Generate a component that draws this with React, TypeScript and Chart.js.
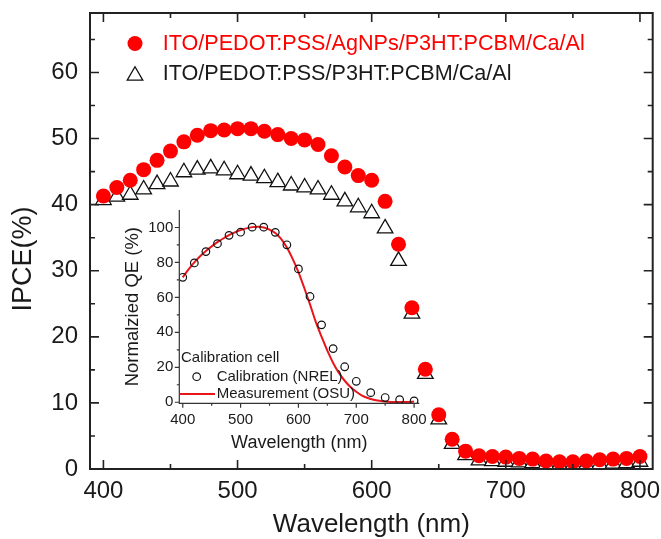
import React, { useEffect, useRef } from "react";
import { Chart, registerables } from "chart.js";

Chart.register(...registerables);

// ---------- Main chart data ----------
const wavelengths = [
  400, 410, 420, 430, 440, 450, 460, 470, 480, 490, 500, 510, 520, 530, 540, 550, 560, 570, 580, 590,
  600, 610, 620, 630, 640, 650, 660, 670, 680, 690, 700, 710, 720, 730, 740, 750, 760, 770, 780, 790, 800,
];
const ipceAgNPs = [
  41.3, 42.6, 43.7, 45.3, 46.7, 48.1, 49.5, 50.5, 51.2, 51.3, 51.5, 51.5, 51.1, 50.6, 50.0, 49.8, 49.1, 47.4, 45.7, 44.4,
  43.7, 40.5, 34.0, 24.4, 15.1, 8.2, 4.5, 2.7, 2.0, 1.9, 1.8, 1.6, 1.5, 1.2, 1.1, 1.1, 1.2, 1.4, 1.5, 1.6, 1.9,
];
const ipceReference = [
  40.7, 41.2, 41.5, 42.3, 43.1, 43.5, 44.9, 45.3, 45.5, 45.2, 44.6, 44.4, 44.0, 43.4, 42.9, 42.6, 42.3, 41.5, 40.5, 39.6,
  38.7, 36.4, 31.5, 23.5, 14.4, 7.5, 3.8, 2.1, 1.3, 1.2, 1.1, 1.0, 0.9, 0.7, 0.6, 0.6, 0.6, 0.7, 0.8, 0.9, 1.1,
];
const labelAgNPs = "ITO/PEDOT:PSS/AgNPs/P3HT:PCBM/Ca/Al";
const labelReference = "ITO/PEDOT:PSS/P3HT:PCBM/Ca/Al";
const mainXTicks = [400, 500, 600, 700, 800];
const mainXMinorTicks = [450, 550, 650, 750];
const mainYTicks = [0, 10, 20, 30, 40, 50, 60];
const mainYMinorTicks = [5, 15, 25, 35, 45, 55, 65];
const mainXTitle = "Wavelength (nm)";
const mainYTitle = "IPCE(%)";

// ---------- Inset data ----------
const calibrationWl = [400, 420, 440, 460, 480, 500, 520, 540, 560, 580, 600, 620, 640, 660, 680, 700, 725, 750, 775, 800];
const calibrationQE = [71.5, 79.7, 86.2, 90.7, 95.5, 97.3, 100.2, 100.2, 97.2, 90.1, 76.3, 60.5, 44.3, 30.7, 20.3, 12.0, 5.5, 2.7, 1.5, 0.8];
const measurementWl = [
  400, 410, 420, 430, 440, 450, 460, 470, 480, 490, 500, 510, 520, 530, 540, 550, 560, 570, 580, 590,
  600, 610, 620, 630, 640, 650, 660, 670, 680, 690, 700, 710, 720, 730, 740, 750, 760, 770, 780, 790, 800,
];
const measurementQE = [
  71.5, 76, 80, 83.5, 86.5, 89.2, 91.6, 93.7, 95.6, 97.2, 98.5, 99.5, 100.2, 100.4, 100, 98.8, 96.8, 93.5, 88.5, 82,
  74.5, 65.5, 56, 46, 37.5, 29.5, 22.5, 16.8, 12.3, 8.7, 6, 3.8, 2.4, 1.4, 0.8, 0.4, 0.2, 0.1, 0.1, 0.2, 0.4,
];
const insetXTicks = [400, 500, 600, 700, 800];
const insetXMinorTicks = [450, 550, 650, 750];
const insetYTicks = [0, 20, 40, 60, 80, 100];
const insetYMinorTicks = [10, 30, 50, 70, 90];
const insetLegendTitle = "Calibration cell";
const calibrationLabel = "Calibration (NREL)";
const measurementLabel = "Measurement (OSU)";
const insetXTitle = "Wavelength (nm)";
const insetYTitle = "Normalzied QE (%)";

const FONT = "'Liberation Sans', Arial, Helvetica, sans-serif";
const TEXT = "#1a1a1a";
const RED = "#ff0000";
const LINE_RED = "#e8161b";

function drawTriangle(ctx: CanvasRenderingContext2D, x: number, y: number, r: number) {
  const third = (2 * Math.PI) / 3;
  ctx.beginPath();
  ctx.moveTo(x, y - r);
  ctx.lineTo(x + Math.sin(third) * r, y - Math.cos(third) * r);
  ctx.lineTo(x + Math.sin(2 * third) * r, y - Math.cos(2 * third) * r);
  ctx.closePath();
}

const mainFramePlugin = {
  id: "mainFrame",
  afterDatasetsDraw(chart: any) {
    const { ctx, chartArea } = chart;
    const { left, right, top, bottom } = chartArea;
    const xs = chart.scales.x;
    const ys = chart.scales.y;
    ctx.save();
    ctx.strokeStyle = "#222";
    ctx.lineWidth = 2;
    ctx.strokeRect(left, top, right - left, bottom - top);
    ctx.lineWidth = 1.6;
    ctx.beginPath();
    const major = 9;
    const minor = 5;
    const xt = (v: number, len: number) => {
      const p = xs.getPixelForValue(v);
      ctx.moveTo(p, bottom);
      ctx.lineTo(p, bottom - len);
      ctx.moveTo(p, top);
      ctx.lineTo(p, top + len);
    };
    mainXTicks.forEach((v) => xt(v, major));
    mainXMinorTicks.forEach((v) => xt(v, minor));
    const yt = (v: number, len: number) => {
      const p = ys.getPixelForValue(v);
      ctx.moveTo(left, p);
      ctx.lineTo(left + len, p);
      ctx.moveTo(right, p);
      ctx.lineTo(right - len, p);
    };
    mainYTicks.forEach((v) => yt(v, major));
    mainYMinorTicks.forEach((v) => yt(v, minor));
    ctx.stroke();
    ctx.restore();
  },
  afterDraw(chart: any) {
    const { ctx, chartArea } = chart;
    ctx.save();
    // y-axis title
    ctx.translate(24, (chartArea.top + chartArea.bottom) / 2 + 18);
    ctx.rotate(-Math.PI / 2);
    ctx.font = `27px ${FONT}`;
    ctx.fillStyle = TEXT;
    ctx.textAlign = "center";
    ctx.textBaseline = "middle";
    ctx.fillText(mainYTitle, 0, 0);
    ctx.restore();

    // legend
    const ds = chart.data.datasets;
    const lx = chartArea.left + 45;
    const ly1 = chartArea.top + 30.5;
    const ly2 = chartArea.top + 60.5;
    ctx.save();
    ctx.fillStyle = RED;
    ctx.beginPath();
    ctx.arc(lx, ly1, 7.5, 0, Math.PI * 2);
    ctx.fill();
    ctx.fillStyle = "#fff";
    ctx.strokeStyle = "#111";
    ctx.lineWidth = 1.3;
    drawTriangle(ctx, lx, ly2 + 2.2, 9);
    ctx.fill();
    ctx.stroke();
    ctx.font = `21.6px ${FONT}`;
    ctx.textAlign = "left";
    ctx.textBaseline = "middle";
    ctx.fillStyle = RED;
    ctx.fillText(ds[0].label, lx + 27.7, ly1 + 1);
    ctx.fillStyle = TEXT;
    ctx.fillText(ds[1].label, lx + 27.7, ly2 + 1);
    ctx.restore();
  },
};

const insetPlugin = {
  id: "insetAxes",
  afterDatasetsDraw(chart: any) {
    const { ctx, chartArea } = chart;
    const { left, right, top, bottom } = chartArea;
    const xs = chart.scales.x;
    const ys = chart.scales.y;
    ctx.save();
    ctx.strokeStyle = "#333";
    ctx.lineWidth = 1.2;
    ctx.beginPath();
    ctx.moveTo(left, top);
    ctx.lineTo(left, bottom);
    ctx.lineTo(right, bottom);
    const major = 4.5;
    const minor = 2.5;
    insetXTicks.forEach((v) => {
      const p = xs.getPixelForValue(v);
      ctx.moveTo(p, bottom);
      ctx.lineTo(p, bottom + major);
    });
    insetXMinorTicks.forEach((v) => {
      const p = xs.getPixelForValue(v);
      ctx.moveTo(p, bottom);
      ctx.lineTo(p, bottom + minor);
    });
    insetYTicks.forEach((v) => {
      const p = ys.getPixelForValue(v);
      ctx.moveTo(left, p);
      ctx.lineTo(left - major, p);
    });
    insetYMinorTicks.forEach((v) => {
      const p = ys.getPixelForValue(v);
      ctx.moveTo(left, p);
      ctx.lineTo(left - minor, p);
    });
    ctx.stroke();
    ctx.restore();
  },
  afterDraw(chart: any) {
    const { ctx, chartArea } = chart;
    const ds = chart.data.datasets;
    const x0 = chartArea.left + 1.7;
    const y0 = chartArea.bottom - 45;
    ctx.save();
    ctx.font = `15px ${FONT}`;
    ctx.textAlign = "left";
    ctx.textBaseline = "middle";
    ctx.fillStyle = TEXT;
    ctx.fillText(insetLegendTitle, x0, y0);
    // calibration item
    ctx.strokeStyle = "#111";
    ctx.lineWidth = 1.2;
    ctx.beginPath();
    ctx.arc(x0 + 15.7, y0 + 18.4, 3.8, 0, Math.PI * 2);
    ctx.stroke();
    ctx.fillText(ds[0].label, x0 + 35.7, y0 + 18.4);
    // measurement item
    ctx.strokeStyle = LINE_RED;
    ctx.lineWidth = 2;
    ctx.beginPath();
    ctx.moveTo(x0 - 1, y0 + 35.7);
    ctx.lineTo(x0 + 34, y0 + 35.7);
    ctx.stroke();
    ctx.fillText(ds[1].label, x0 + 35.7, y0 + 35.7);
    ctx.restore();
  },
};

function mainConfig(): any {
  return {
    type: "scatter",
    data: {
      datasets: [
        {
          label: labelAgNPs,
          data: wavelengths.map((x, i) => ({ x, y: ipceAgNPs[i] })),
          pointStyle: "circle",
          pointRadius: 7.5,
          backgroundColor: RED,
          borderColor: RED,
          borderWidth: 0,
          showLine: false,
          order: 1,
        },
        {
          label: labelReference,
          data: wavelengths.map((x, i) => ({ x, y: ipceReference[i] })),
          pointStyle: "triangle",
          pointRadius: 9,
          backgroundColor: "#ffffff",
          borderColor: "#111",
          borderWidth: 1.3,
          showLine: false,
          order: 2,
        },
      ],
    },
    options: {
      animation: false,
      responsive: false,
      events: [],
      layout: { padding: { top: 13, right: 8.3, left: 0, bottom: 0 }, autoPadding: false },
      plugins: { legend: { display: false }, tooltip: { enabled: false }, title: { display: false } },
      scales: {
        x: {
          type: "linear",
          position: "bottom",
          min: 390,
          max: 809.5,
          afterBuildTicks: (s: any) => {
            s.ticks = mainXTicks.map((v) => ({ value: v }));
          },
          afterFit: (s: any) => {
            s.height = 70;
            s.paddingLeft = 0;
            s.paddingRight = 0;
          },
          grid: { display: false, drawTicks: false },
          border: { display: false },
          ticks: { font: { family: FONT, size: 24 }, color: TEXT, padding: 8, maxRotation: 0, autoSkip: false },
          title: {
            display: true,
            text: mainXTitle,
            color: TEXT,
            font: { family: FONT, size: 26, lineHeight: 1 },
            padding: { top: 0, bottom: 1 },
          },
        },
        y: {
          type: "linear",
          position: "left",
          min: 0,
          max: 69,
          afterBuildTicks: (s: any) => {
            s.ticks = mainYTicks.map((v) => ({ value: v }));
          },
          afterFit: (s: any) => {
            s.width = 90;
            s.paddingTop = 0;
            s.paddingBottom = 0;
          },
          grid: { display: false, drawTicks: false },
          border: { display: false },
          ticks: { font: { family: FONT, size: 24 }, color: TEXT, padding: 12, autoSkip: false },
          title: { display: false },
        },
      },
    },
    plugins: [mainFramePlugin],
  };
}

function insetConfig(): any {
  return {
    type: "scatter",
    data: {
      datasets: [
        {
          label: calibrationLabel,
          data: calibrationWl.map((x, i) => ({ x, y: calibrationQE[i] })),
          pointStyle: "circle",
          pointRadius: 3.8,
          backgroundColor: "rgba(255,255,255,0)",
          borderColor: "#111",
          borderWidth: 1.2,
          showLine: false,
          order: 1,
        },
        {
          label: measurementLabel,
          data: measurementWl.map((x, i) => ({ x, y: measurementQE[i] })),
          showLine: true,
          borderColor: LINE_RED,
          borderWidth: 2,
          pointRadius: 0,
          cubicInterpolationMode: "monotone",
          order: 2,
        },
      ],
    },
    options: {
      animation: false,
      responsive: false,
      events: [],
      layout: { padding: { top: 15, right: 20.7, left: 0, bottom: 0 }, autoPadding: false },
      plugins: { legend: { display: false }, tooltip: { enabled: false }, title: { display: false } },
      scales: {
        x: {
          type: "linear",
          position: "bottom",
          min: 394,
          max: 809,
          afterBuildTicks: (s: any) => {
            s.ticks = insetXTicks.map((v) => ({ value: v }));
          },
          afterFit: (s: any) => {
            s.height = 56.7;
            s.paddingLeft = 0;
            s.paddingRight = 0;
          },
          grid: { display: false, drawTicks: false },
          border: { display: false },
          ticks: { font: { family: FONT, size: 15 }, color: TEXT, padding: 7.7, maxRotation: 0, autoSkip: false },
          title: {
            display: true,
            text: insetXTitle,
            color: TEXT,
            font: { family: FONT, size: 18, lineHeight: 1 },
            padding: { top: 0, bottom: 8 },
          },
        },
        y: {
          type: "linear",
          position: "left",
          min: -0.6,
          max: 110,
          afterBuildTicks: (s: any) => {
            s.ticks = insetYTicks.map((v) => ({ value: v }));
          },
          afterFit: (s: any) => {
            s.width = 79.3;
            s.paddingTop = 0;
            s.paddingBottom = 0;
          },
          grid: { display: false, drawTicks: false },
          border: { display: false },
          ticks: { font: { family: FONT, size: 15 }, color: TEXT, padding: 6, autoSkip: false },
          title: {
            display: true,
            text: insetYTitle,
            color: TEXT,
            font: { family: FONT, size: 18.5, lineHeight: 1 },
            padding: { top: 23.3, bottom: 0 },
          },
        },
      },
    },
    plugins: [insetPlugin],
  };
}

export default function App() {
  const mainRef = useRef<HTMLCanvasElement>(null);
  const insetRef = useRef<HTMLCanvasElement>(null);

  useEffect(() => {
    if (!mainRef.current || !insetRef.current) return;
    const main = new Chart(mainRef.current, mainConfig());
    const inset = new Chart(insetRef.current, insetConfig());
    return () => {
      main.destroy();
      inset.destroy();
    };
  }, []);

  return (
    <div style={{ position: "absolute", left: 0, top: 0, width: 661, height: 539, background: "#fff" }}>
      <canvas
        ref={mainRef}
        width={661}
        height={539}
        style={{ position: "absolute", left: 0, top: 0, width: 661, height: 539 }}
      />
      <canvas
        ref={insetRef}
        width={340}
        height={265}
        style={{ position: "absolute", left: 100, top: 195, width: 340, height: 265 }}
      />
    </div>
  );
}
